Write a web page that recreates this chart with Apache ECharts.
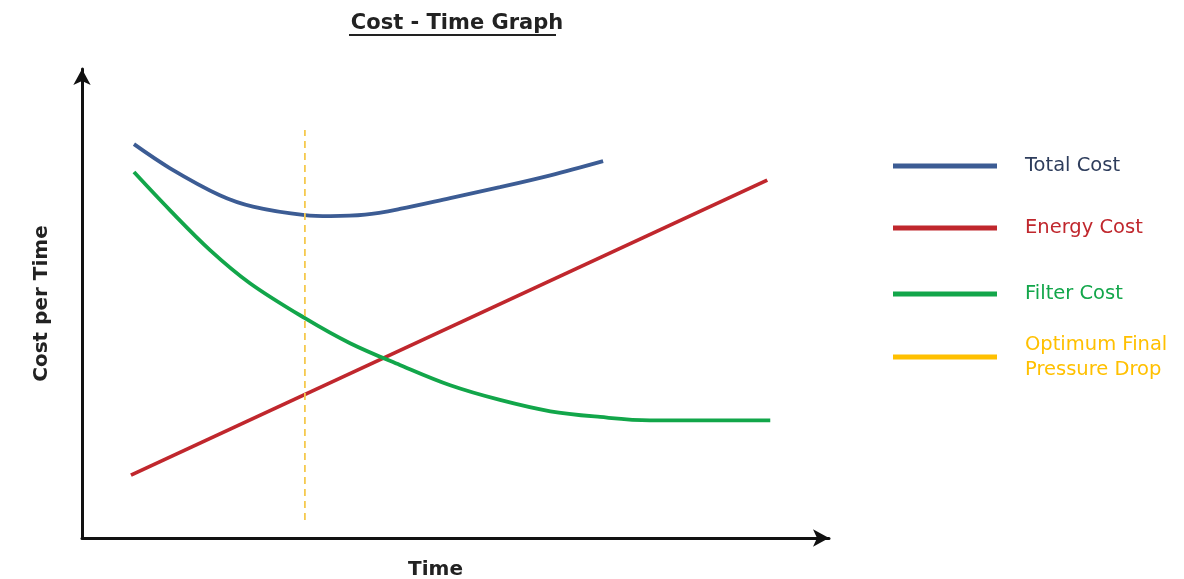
<!DOCTYPE html>
<html>
<head>
<meta charset="utf-8">
<title>Cost - Time Graph</title>
<script src="https://cdn.jsdelivr.net/npm/echarts@6/dist/echarts.min.js"></script>
<style>
  html, body { margin: 0; padding: 0; background: #fff; }
  #chart { width: 1184px; height: 579px; }
</style>
</head>
<body>
<div id="chart"></div>
<script>
  // values (time 0..99, cost 0..99)
  const totalCost = [
    [6.9, 83.3], [11.7, 78.2], [18.3, 72.5], [22.7, 70.1], [29.6, 68.3], [33.0, 68.1],
    [37.6, 68.4], [42.2, 69.6], [48.9, 71.9], [55.5, 74.2], [62.2, 76.7], [69.2, 79.7]
  ]
  const energyCost = [[6.5, 13.3], [91.0, 75.7]]
  const filterCost = [
    [6.9, 77.4], [11.7, 69.3], [17.0, 60.9], [22.3, 53.9], [29.6, 46.5], [35.6, 41.2],
    [42.2, 36.6], [48.9, 32.3], [55.5, 29.2], [62.2, 26.8], [68.8, 25.6], [75.4, 24.9],
    [82.1, 24.9], [91.4, 24.9]
  ]
  const optimumDrop = [[29.6, 3.8], [29.6, 86.3]]

  const names = ['Total Cost', 'Energy Cost', 'Filter Cost', 'Optimum Final\nPressure Drop']
  const lineColors = ['#3c5c94', '#c0272d', '#12a64a', '#ffc000']
  const textColors = ['#2e3d5c', '#c0272d', '#12a64a', '#ffc000']
  // legend swatch centre y for each entry
  const legendY = [166, 228, 294, 357]

  const chart = echarts.init(document.getElementById('chart'))

  const legends = names.map((n, i) => ({
    data: [{ name: n, itemStyle: { color: lineColors[i] } }],
    left: 893,
    top: legendY[i] - (i === 3 ? 25 : 12.5),
    padding: 0,
    icon: 'rect',
    itemWidth: 104,
    itemHeight: 5,
    selectedMode: false,
    textStyle: {
      color: textColors[i],
      fontFamily: 'DejaVu Sans',
      fontSize: 19.5,
      lineHeight: 25,
      padding: [0, 0, 0, 23]
    }
  }))

  const nameStyle = { fontFamily: 'DejaVu Sans', fontWeight: 'bold', fontSize: 20, color: '#222' }

  const option = {
    animation: false,
    title: {
      text: 'Cost - Time Graph',
      left: 452,
      textAlign: 'center',
      top: 8,
      textStyle: { fontFamily: 'DejaVu Sans', fontWeight: 'bold', fontSize: 21, color: '#222' }
    },
    legend: legends,
    grid: { left: 82, right: 355, top: 69, bottom: 41, outerBoundsMode: 'none', containLabel: false },
    xAxis: {
      type: 'value',
      min: 0,
      max: 99.2,
      name: 'Time',
      nameLocation: 'middle',
      nameGap: 22,
      nameTextStyle: Object.assign({}, nameStyle, { padding: [0, 40, 0, 0] }),
      axisLine: { lineStyle: { color: '#111', width: 3 }, symbol: ['none', 'arrow'], symbolSize: [13, 16] },
      axisTick: { show: false },
      axisLabel: { show: false },
      splitLine: { show: false }
    },
    yAxis: {
      type: 'value',
      min: 0,
      max: 99.2,
      name: 'Cost per Time',
      nameLocation: 'middle',
      nameRotate: 90,
      nameGap: 30,
      nameTextStyle: nameStyle,
      axisLine: { show: true, lineStyle: { color: '#111', width: 3 }, symbol: ['none', 'arrow'], symbolSize: [13, 16] },
      axisTick: { show: false },
      axisLabel: { show: false },
      splitLine: { show: false }
    },
    graphic: [
      // underline under the title
      { type: 'line', shape: { x1: 349, y1: 35, x2: 556, y2: 35 }, style: { stroke: '#222', lineWidth: 2 } }
    ],
    series: [
      { name: names[0], type: 'line', data: totalCost, smooth: 0.35, symbol: 'none', silent: true,
        lineStyle: { color: lineColors[0], width: 3.8 }, itemStyle: { color: lineColors[0] } },
      { name: names[1], type: 'line', data: energyCost, symbol: 'none', silent: true,
        lineStyle: { color: lineColors[1], width: 3.8 }, itemStyle: { color: lineColors[1] } },
      { name: names[2], type: 'line', data: filterCost, smooth: 0.35, symbol: 'none', silent: true,
        lineStyle: { color: lineColors[2], width: 3.8 }, itemStyle: { color: lineColors[2] } },
      { name: names[3], type: 'line', data: optimumDrop, symbol: 'none', silent: true,
        lineStyle: { color: '#f5c94e', width: 1.8, type: [7, 5] }, itemStyle: { color: lineColors[3] } }
    ]
  }

  chart.setOption(option)
</script>
</body>
</html>
